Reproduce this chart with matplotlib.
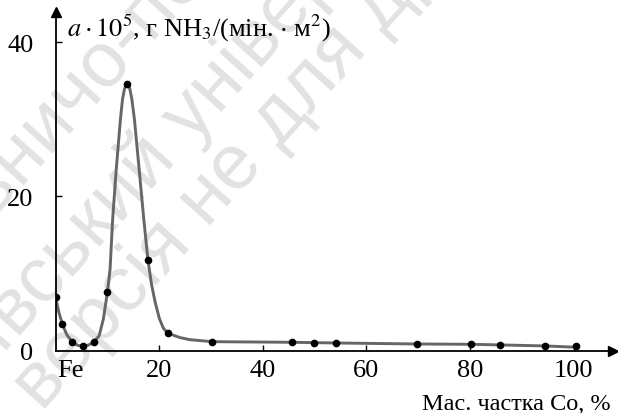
import numpy as np
import matplotlib
matplotlib.use('Agg')
import matplotlib.pyplot as plt
from matplotlib.textpath import TextPath
from matplotlib.font_manager import FontProperties

plt.rcParams['font.family'] = ['Liberation Serif', 'DejaVu Serif']
plt.rcParams['mathtext.fontset'] = 'stix'

# ── data ──────────────────────────────────────────────────────────────────
# measured points (markers)
co_pts = [0, 1.3, 3.2, 5.3, 7.4, 10.0, 13.8, 17.8, 21.7, 30.2,
          45.6, 49.8, 54.2, 69.7, 80.2, 85.8, 94.5, 100.4]
a_pts = [6.9, 3.4, 1.15, 0.55, 1.15, 7.65, 34.6, 11.8, 2.25, 1.17,
         1.09, 1.05, 1.0, 0.87, 0.83, 0.78, 0.62, 0.55]

# trace of the drawn curve
co_curve = [0, 0.6, 1.3, 2.2, 3.2, 4.2, 5.3, 6.4, 7.4, 8.4, 9.2, 10.0, 10.5,
            11.0, 11.7, 12.5, 12.9, 13.3, 13.8, 14.3, 14.7, 15.2, 16.1,
            17.0, 17.8, 18.5, 19.2, 20.0, 20.8, 21.7, 24.0, 25.9, 30.2,
            45.6, 54.2, 69.7, 80.2, 94.5, 100.4]
a_curve = [6.9, 5.0, 3.4, 2.0, 1.15, 0.7, 0.55, 0.75, 1.15, 1.95, 4.1, 7.65,
           10.6, 17.1, 23.6, 30.0, 32.6, 34.0, 34.6, 34.0, 32.6, 30.0, 23.6,
           17.1, 11.8, 8.6, 6.3, 4.2, 2.9, 2.25, 1.7, 1.43, 1.17,
           1.09, 1.0, 0.87, 0.83, 0.62, 0.45]

x_ticks = [2.8, 20, 40, 60, 80, 100]
x_labels = ['Fe', '20', '40', '60', '80', '100']
y_ticks = [0, 20, 40]

W, H = 618, 414
fig = plt.figure(figsize=(W / 100, H / 100), dpi=100)
fig.patch.set_facecolor('white')

# ── faint watermark ───────────────────────────────────────────────────────
wm_prop = FontProperties(family='Liberation Sans')
wm_size = 56
wm_ang = 48
WM = [("Видавничо-поліграфічний центр", "Видав", (14, 196)),
      ("«Київський університет»", "«Киї", (14, 342)),
      ("версія не для друку", "", (42, 412))]
for s, pre, (px, py) in WM:
    w = 0
    if pre:
        w = TextPath((0, 0), pre, size=wm_size, prop=wm_prop).get_extents().width * 100 / 72
    a = np.radians(wm_ang)
    x0 = px - w * np.cos(a)
    y0 = py + w * np.sin(a)
    fig.text(x0 / W, 1 - y0 / H, s, fontproperties=wm_prop, fontsize=wm_size,
             color='#e2e2e2', rotation=wm_ang, rotation_mode='anchor',
             ha='left', va='baseline', zorder=-5)

# ── axes ──────────────────────────────────────────────────────────────────
x0, x1, y_top, y_bot = 55.7, 613, 13, 351.7
ax = fig.add_axes([x0 / W, (H - y_bot) / H, (x1 - x0) / W, (y_bot - y_top) / H])
ax.patch.set_alpha(0)
ax.set_xlim(0, 107.6)
ax.set_ylim(0, 43.9)

for side in ['top', 'right']:
    ax.spines[side].set_visible(False)
for side in ['left', 'bottom']:
    ax.spines[side].set_linewidth(1.3)
ax.plot(1, 0, '>', color='black', ms=7, transform=ax.transAxes, clip_on=False)
ax.plot(0, 1, '^', color='black', ms=7, transform=ax.transAxes, clip_on=False)

ax.plot(co_curve, a_curve, color='#666666', lw=2.1, solid_joinstyle='round', zorder=2)
ax.plot(co_pts, a_pts, 'o', color='black', ms=4.5, zorder=3)

ax.set_xticks(x_ticks)
ax.set_xticklabels(x_labels)
ax.set_yticks(y_ticks)
ax.tick_params(axis='x', direction='in', length=4, width=1, labelsize=19, pad=6)
ax.tick_params(axis='y', direction='in', length=4, width=1, labelsize=19, pad=16)
ax.xaxis.get_major_ticks()[0].tick1line.set_visible(False)
ax.yaxis.get_major_ticks()[0].tick1line.set_visible(False)

fig.text(67 / W, 1 - 37 / H,
         r'$a\cdot10^5$, г NH$_3$/(мін. $\cdot$ м$^2$)',
         fontsize=19, ha='left', va='baseline')
fig.text(611 / W, 1 - 410 / H, 'Мас. частка Co, %',
         fontsize=17.5, ha='right', va='baseline')

fig.savefig('out.png', dpi=100, facecolor='white')
